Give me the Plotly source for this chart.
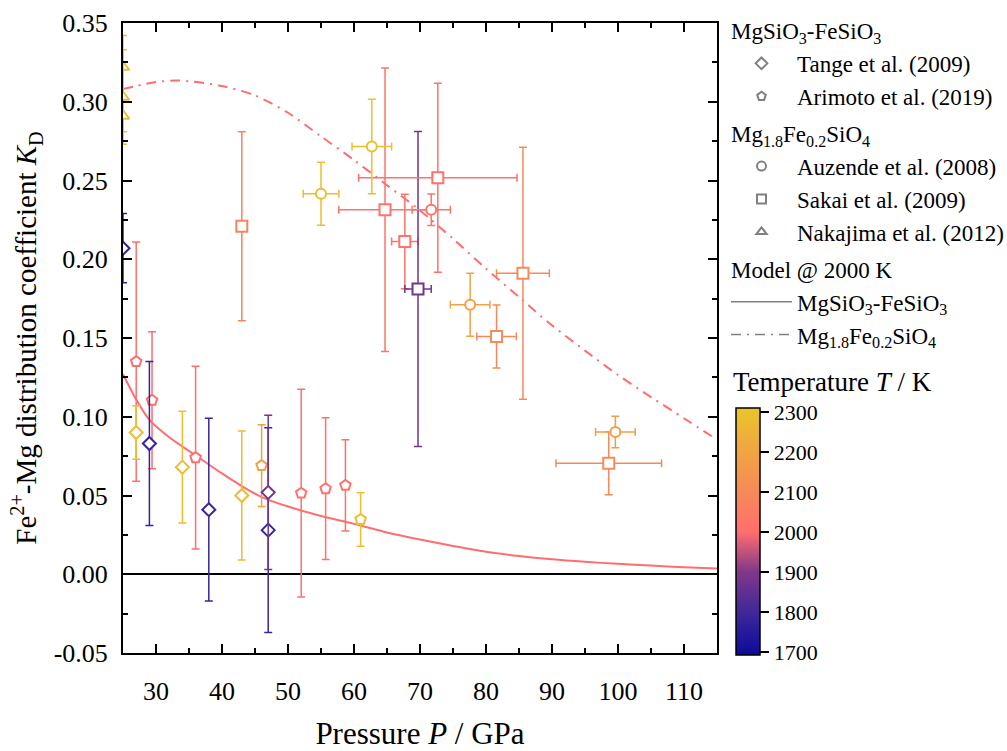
import plotly.graph_objects as go
from plotly.colors import sample_colorscale

# ---------------- data ----------------
# MgSiO3-FeSiO3 : Tange et al. (2009)
tange_P = [25, 27, 29, 34, 38, 43, 47, 47]
tange_K = [0.207, 0.090, 0.083, 0.068, 0.041, 0.050, 0.028, 0.052]
tange_Kerr = [0.022, 0.017, 0.052, 0.0355, 0.058, 0.041, 0.065, 0.049]
tange_T = [1770, 2290, 1780, 2280, 1790, 2280, 1790, 1880]

# MgSiO3-FeSiO3 : Arimoto et al. (2019)
arimoto_P = [27, 29.4, 36, 46, 52, 55.7, 58.7, 61]
arimoto_K = [0.135, 0.1105, 0.074, 0.069, 0.0515, 0.0543, 0.0564, 0.0348]
arimoto_Kerr = [0.076, 0.0435, 0.058, 0.026, 0.066, 0.045, 0.029, 0.017]
arimoto_T = [2000, 2000, 2000, 2190, 2010, 2010, 2010, 2290]

# Mg1.8Fe0.2SiO4 : Auzende et al. (2008)
auzende_P = [55, 62.7, 71.7, 77.6, 99.6]
auzende_Perr = [2.7, 3, 2.9, 3, 3]
auzende_K = [0.2416, 0.2716, 0.2314, 0.1711, 0.0903]
auzende_Kerr = [0.02, 0.03, 0.01, 0.02, 0.01]
auzende_T = [2290, 2290, 2020, 2200, 2180]

# Mg1.8Fe0.2SiO4 : Sakai et al. (2009)
sakai_P = [43, 64.7, 67.7, 69.7, 72.7, 81.6, 85.6, 98.6]
sakai_Perr = [0, 7, 2, 2, 12, 3, 4, 8]
sakai_K = [0.221, 0.2314, 0.2112, 0.1811, 0.2517, 0.151, 0.1911, 0.0704]
sakai_Kerr = [0.06, 0.09, 0.03, 0.10, 0.06, 0.02, 0.08, 0.02]
sakai_T = [2080, 2020, 2020, 1880, 2010, 2100, 2100, 2100]

# Mg1.8Fe0.2SiO4 : Nakajima et al. (2012)
nakajima_P = [25, 25, 25]
nakajima_K = [0.322, 0.303, 0.291]
nakajima_Kerr = [0.02, 0.03, 0.01]
nakajima_T = [2290, 2290, 2290]

# Model @ 2000 K
pv_P = [25, 27, 29, 32, 36, 40, 43, 46, 50, 55, 60, 65, 70, 75, 80, 85, 90, 95, 100, 105, 110, 115]
pv_K = [0.127, 0.111, 0.098, 0.087, 0.0755, 0.064, 0.056, 0.049, 0.043, 0.037, 0.032, 0.0265,
        0.022, 0.018, 0.0143, 0.0116, 0.0095, 0.0079, 0.0066, 0.0055, 0.0045, 0.0036]
ol_P = [25, 27, 30, 33, 35, 40, 45, 50, 55, 60, 65, 70, 75, 80, 85, 90, 95, 100, 105, 110, 115]
ol_K = [0.308, 0.310, 0.3125, 0.3135, 0.313, 0.310, 0.304, 0.293, 0.278, 0.263, 0.247, 0.231,
        0.213, 0.194, 0.176, 0.158, 0.142, 0.1265, 0.1125, 0.099, 0.0855]

# axis ticks
y_tickvals = [-0.05, 0.0, 0.05, 0.10, 0.15, 0.20, 0.25, 0.30, 0.35]
y_ticktext = ["-0.05", "0.00", "0.05", "0.10", "0.15", "0.20", "0.25", "0.30", "0.35"]
T_min, T_max = 1692, 2310
T_ticks = [1700, 1800, 1900, 2000, 2100, 2200, 2300]

# ---------------- styling ----------------
FONT = "Liberation Serif, DejaVu Serif, serif"
cstops = [(1692, "rgb(12,10,154)"), (1800, "rgb(64,40,154)"), (1900, "rgb(128,56,136)"),
          (2000, "rgb(255,110,110)"), (2100, "rgb(246,138,88)"), (2200, "rgb(240,164,67)"),
          (2310, "rgb(234,197,42)")]
colorscale = [[(t - T_min) / (T_max - T_min), c] for t, c in cstops]


def tcolor(T):
    return sample_colorscale(colorscale, [(T - T_min) / (T_max - T_min)])[0]


MODEL_COLOR = "rgb(255,110,110)"
GRAY = "rgb(128,128,128)"
DASHDOT = "10px,6px,2px,6px"

fig = go.Figure()

# model curves
fig.add_trace(go.Scatter(x=pv_P, y=pv_K, mode="lines",
                         line=dict(color=MODEL_COLOR, width=2, shape="spline", smoothing=0.8),
                         showlegend=False, hoverinfo="skip"))
fig.add_trace(go.Scatter(x=ol_P, y=ol_K, mode="lines",
                         line=dict(color=MODEL_COLOR, width=2, dash=DASHDOT, shape="spline", smoothing=0.8),
                         showlegend=False, hoverinfo="skip"))


def add_points(P, K, Kerr, T, symbol, size, Perr=None):
    for i in range(len(P)):
        c = tcolor(T[i])
        if Perr is not None and Perr[i] > 0:
            ex = dict(type="data", array=[Perr[i]], color=c, thickness=1.5, width=4)
        else:
            ex = dict(visible=False)
        fig.add_trace(go.Scatter(
            x=[P[i]], y=[K[i]], mode="markers",
            marker=dict(symbol=symbol, size=size, color="white", line=dict(color=c, width=2)),
            error_y=dict(type="data", array=[Kerr[i]], color=c, thickness=1.5, width=4),
            error_x=ex, showlegend=False))


add_points(sakai_P, sakai_K, sakai_Kerr, sakai_T, "square", 11, sakai_Perr)
add_points(auzende_P, auzende_K, auzende_Kerr, auzende_T, "circle", 10, auzende_Perr)
add_points(nakajima_P, nakajima_K, nakajima_Kerr, nakajima_T, "triangle-up", 11)
add_points(arimoto_P, arimoto_K, arimoto_Kerr, arimoto_T, "pentagon", 11)
add_points(tange_P, tange_K, tange_Kerr, tange_T, "diamond", 10)

# colorbar carrier
fig.add_trace(go.Scatter(x=[None], y=[None], mode="markers",
                         marker=dict(color=[2000], coloraxis="coloraxis"), showlegend=False))

# legend entries
G1 = "MgSiO<sub>3</sub>-FeSiO<sub>3</sub>"
G2 = "Mg<sub>1.8</sub>Fe<sub>0.2</sub>SiO<sub>4</sub>"
G3 = "Model @ 2000 K"
LEGFONT = 23
leg = [
    ("g1", G1, "Tange et al. (2009)", "diamond-open", None),
    ("g1", G1, "Arimoto et al. (2019)", "pentagon-open", None),
    ("g2", G2, "Auzende et al. (2008)", "circle-open", None),
    ("g2", G2, "Sakai et al. (2009)", "square-open", None),
    ("g2", G2, "Nakajima et al. (2012)", "triangle-up-open", None),
    ("g3", G3, "MgSiO<sub>3</sub>-FeSiO<sub>3</sub>", None, "solid"),
    ("g3", G3, "Mg<sub>1.8</sub>Fe<sub>0.2</sub>SiO<sub>4</sub>", None, DASHDOT),
]
for grp, gtitle, name, sym, dash in leg:
    if sym:
        fig.add_trace(go.Scatter(x=[None], y=[None], mode="markers", name=name,
                                 marker=dict(symbol=sym, size=9, color=GRAY, line=dict(width=2, color=GRAY)),
                                 legendgroup=grp,
                                 legendgrouptitle=dict(text=gtitle, font=dict(size=LEGFONT, family=FONT))))
    else:
        fig.add_trace(go.Scatter(x=[None], y=[None], mode="lines", name=name,
                                 line=dict(color=GRAY, width=1.5, dash=dash),
                                 legendgroup=grp,
                                 legendgrouptitle=dict(text=gtitle, font=dict(size=LEGFONT, family=FONT))))

axis_common = dict(showline=True, linecolor="black", linewidth=2, mirror="ticks",
                   ticks="inside", ticklen=9, tickwidth=1.5, tickcolor="black",
                   showgrid=False, tickfont=dict(size=26, family=FONT, color="black"))

fig.update_layout(
    width=1007, height=751,
    margin=dict(l=123, r=290, t=23, b=98, autoexpand=False),
    paper_bgcolor="white", plot_bgcolor="white",
    font=dict(family=FONT, color="black"),
    xaxis=dict(range=[25, 115], dtick=10, tick0=0, autorange=False,
               minor=dict(dtick=5, ticks="inside", ticklen=5, tickwidth=1.5, tickcolor="black"),
               title=dict(text="Pressure <i>P</i> / GPa", font=dict(size=31, family=FONT), standoff=32),
               ticklabelstandoff=14, zeroline=False, automargin=False, **axis_common),
    yaxis=dict(range=[-0.05, 0.35], tickmode="array", tickvals=y_tickvals, ticktext=y_ticktext,
               autorange=False,
               minor=dict(dtick=0.025, tick0=0, ticks="inside", ticklen=5, tickwidth=1.5, tickcolor="black"),
               title=dict(text="Fe<sup>2+</sup>-Mg distribution coefficient <i>K</i><sub>D</sub>",
                          font=dict(size=29, family=FONT), standoff=8),
               ticklabelstandoff=8, zeroline=True, zerolinecolor="black", zerolinewidth=2,
               automargin=False, **axis_common),
    coloraxis=dict(cmin=T_min, cmax=T_max, colorscale=colorscale,
                   colorbar=dict(thickness=24, thicknessmode="pixels", len=247, lenmode="pixels",
                                 x=(736 - 123) / 594, xanchor="left", xpad=0,
                                 y=(653 - 655) / 630, yanchor="bottom", ypad=0,
                                 outlinewidth=1.5, outlinecolor="black",
                                 ticks="outside", ticklen=9, tickwidth=1.5, tickcolor="black",
                                 tickvals=T_ticks, tickprefix="\u00a0\u00a0\u00a0",
                                 tickfont=dict(size=22, family=FONT),
                                 borderwidth=0)),
    legend=dict(x=(726 - 123) / 594, xanchor="left", y=1 + 14 / 630, yanchor="top",
                font=dict(size=LEGFONT, family=FONT), itemwidth=61, tracegroupgap=4,
                bgcolor="rgba(0,0,0,0)", borderwidth=0, traceorder="grouped"),
    annotations=[dict(text="Temperature <i>T</i> / K", x=(731 - 123) / 594, xref="paper",
                      y=(653 - 382) / 630, yref="paper",
                      showarrow=False, font=dict(size=27, family=FONT),
                      xanchor="left", yanchor="middle")],
)

fig.write_html("out.html")
